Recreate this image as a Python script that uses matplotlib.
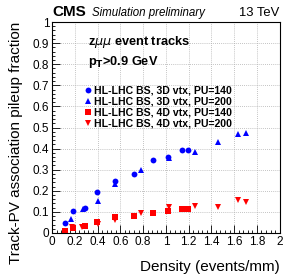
import numpy as np
import matplotlib
matplotlib.use("Agg")
import matplotlib.pyplot as plt
from matplotlib.ticker import MultipleLocator, FuncFormatter

plt.rcParams["font.family"] = ["Liberation Sans", "DejaVu Sans"]

# 3D vertexing, PU=140 (blue circles)
x_3d_140 = [0.115, 0.188, 0.29, 0.394, 0.555, 0.722, 0.884, 1.016, 1.143, 1.192]
y_3d_140 = [0.048, 0.105, 0.118, 0.193, 0.245, 0.281, 0.344, 0.360, 0.395, 0.395]
# 3D vertexing, PU=200 (blue triangles)
x_3d_200 = [0.167, 0.27, 0.40, 0.555, 0.784, 1.025, 1.254, 1.457, 1.636, 1.707]
y_3d_200 = [0.065, 0.112, 0.152, 0.233, 0.300, 0.354, 0.384, 0.430, 0.470, 0.474]
# 4D vertexing, PU=140 (red squares)
x_4d_140 = [0.115, 0.188, 0.285, 0.394, 0.555, 0.722, 0.884, 1.016, 1.143, 1.192]
y_4d_140 = [0.010, 0.024, 0.035, 0.050, 0.075, 0.080, 0.095, 0.102, 0.115, 0.114]
# 4D vertexing, PU=200 (red inverted triangles)
x_4d_200 = [0.173, 0.267, 0.40, 0.555, 0.784, 1.025, 1.254, 1.46, 1.636, 1.70]
y_4d_200 = [0.027, 0.027, 0.043, 0.062, 0.094, 0.122, 0.126, 0.122, 0.157, 0.145]

labels = ["HL-LHC BS, 3D vtx, PU=140", "HL-LHC BS, 3D vtx, PU=200",
          "HL-LHC BS, 4D vtx, PU=140", "HL-LHC BS, 4D vtx, PU=200"]

fig = plt.figure(figsize=(2.91, 2.79), dpi=100)
ax = fig.add_axes([0.179, 0.165, 0.782, 0.756])

blue = "#0000ff"
red = "#ff0000"
h1, = ax.plot(x_3d_140, y_3d_140, "o", color=blue, ms=4.2, mew=0, label=labels[0])
h2, = ax.plot(x_3d_200, y_3d_200, "^", color=blue, ms=4.4, mew=0, label=labels[1])
h3, = ax.plot(x_4d_140, y_4d_140, "s", color=red, ms=3.9, mew=0, label=labels[2])
h4, = ax.plot(x_4d_200, y_4d_200, "v", color=red, ms=4.4, mew=0, label=labels[3])

ax.set_xlim(0, 2)
ax.set_ylim(0, 1)
ax.xaxis.set_major_locator(MultipleLocator(0.2))
ax.xaxis.set_minor_locator(MultipleLocator(0.04))
ax.yaxis.set_major_locator(MultipleLocator(0.1))
ax.yaxis.set_minor_locator(MultipleLocator(0.02))
fmt = FuncFormatter(lambda v, pos: f"{v:.1f}".rstrip("0").rstrip("."))
ax.xaxis.set_major_formatter(fmt)
ax.yaxis.set_major_formatter(fmt)
ax.tick_params(which="both", direction="in", top=False, right=False, labelsize=8.5, pad=2)
ax.tick_params(which="major", length=5.5, width=0.6)
ax.tick_params(which="minor", length=2.5, width=0.6)
ax.grid(True, which="major", color="#b0b0b0", linestyle=(0, (1, 1.5)), linewidth=0.6)
for s in ax.spines.values():
    s.set_linewidth(0.8)

ax.set_xlabel("Density (events/mm)", fontsize=11, loc="right", labelpad=9)
ax.set_ylabel("Track-PV association pileup fraction", fontsize=11, loc="top", labelpad=7)

fig.text(0.179, 0.933, "CMS", fontsize=11, fontweight="bold", ha="left", va="bottom")
fig.text(0.316, 0.933, "Simulation preliminary", fontsize=8.3, style="italic",
         ha="left", va="bottom")
fig.text(0.96, 0.933, "13 TeV", fontsize=9.4, ha="right", va="bottom")

ax.text(0.16, 0.905, "z$\\mu\\mu$ event tracks", transform=ax.transAxes,
        fontsize=9.2, fontweight="bold", va="center")
ax.text(0.16, 0.81, "p$_\\mathbf{T}$>0.9 GeV", transform=ax.transAxes,
        fontsize=9.2, fontweight="bold", va="center")

leg = ax.legend(handles=[h1, h2, h3, h4], loc="upper left",
                bbox_to_anchor=(0.145, 0.70), frameon=False,
                prop={"weight": "bold", "size": 7.6}, handlelength=0.6,
                handletextpad=0.25, labelspacing=0.1, borderpad=0,
                borderaxespad=0)

fig.savefig("out.png", dpi=100)
